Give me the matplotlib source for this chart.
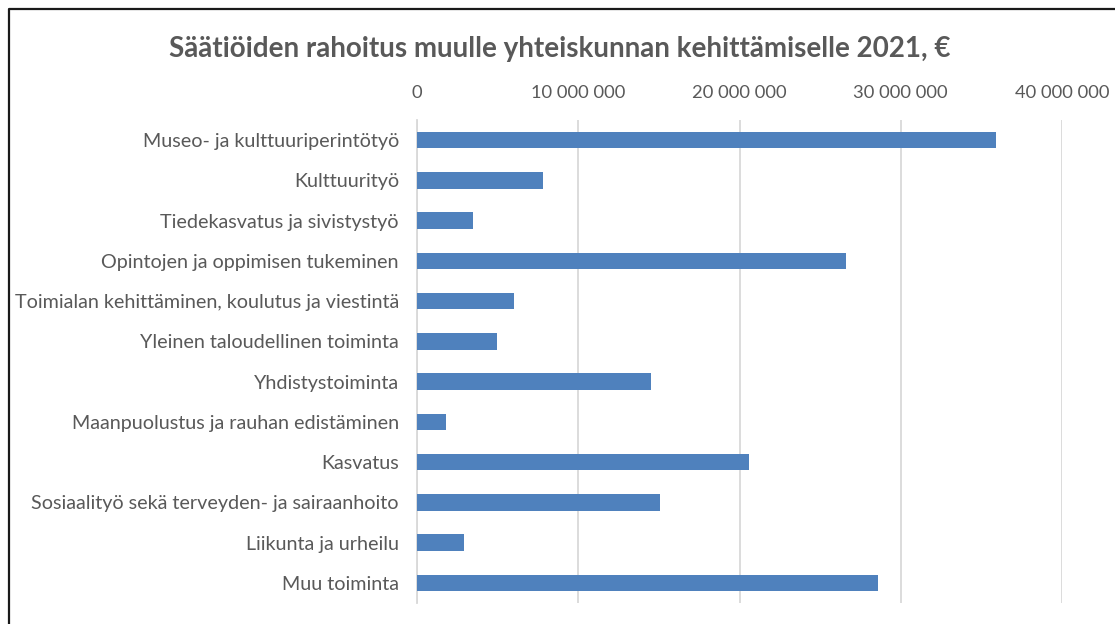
import matplotlib.pyplot as plt
from matplotlib.lines import Line2D
from matplotlib.ticker import FuncFormatter, MultipleLocator

plt.rcParams['font.family'] = ['Lato', 'DejaVu Sans']

# ------------------------------
# Data (euros)
# ------------------------------
categories = [
    'Museo- ja kulttuuriperintötyö',
    'Kulttuurityö',
    'Tiedekasvatus ja sivistystyö',
    'Opintojen ja oppimisen tukeminen',
    'Toimialan kehittäminen, koulutus ja viestintä',
    'Yleinen taloudellinen toiminta',
    'Yhdistystoiminta',
    'Maanpuolustus ja rauhan edistäminen',
    'Kasvatus',
    'Sosiaalityö sekä terveyden- ja sairaanhoito',
    'Liikunta ja urheilu',
    'Muu toiminta',
]
values = [35_900_000, 7_800_000, 3_500_000, 26_600_000, 6_000_000, 4_950_000,
          14_500_000, 1_800_000, 20_600_000, 15_100_000, 2_900_000, 28_600_000]
title = 'Säätiöiden rahoitus muulle yhteiskunnan kehittämiselle 2021, €'

text_col = '#595959'
bar_col = '#4f81bd'
grid_col = '#d9d9d9'

fig = plt.figure(figsize=(11.15, 6.24), dpi=100)
ax = fig.add_axes([417/1115, 1 - 603/624, (1062 - 417)/1115, (603 - 120)/624])

pos = list(range(len(categories)))
ax.barh(pos, values, height=0.41, color=bar_col, zorder=3)

ax.set_xlim(0, 40_000_000)
ax.set_ylim(len(categories) - 0.5, -0.5)
ax.set_yticks(pos)
ax.set_yticklabels(categories, fontsize=14.2, color=text_col)

ax.xaxis.tick_top()
ax.xaxis.set_major_locator(MultipleLocator(10_000_000))
ax.xaxis.set_major_formatter(FuncFormatter(lambda v, p: f'{int(v):,}'.replace(',', ' ')))
ax.tick_params(axis='x', length=0, pad=14, labelsize=13.2, labelcolor=text_col)
ax.tick_params(axis='y', length=0, pad=13)

ax.grid(axis='x', color=grid_col, linewidth=1.3, zorder=0)
for s in ['top', 'right', 'bottom']:
    ax.spines[s].set_visible(False)
ax.spines['left'].set_color(grid_col)
ax.spines['left'].set_linewidth(1.3)

fig.text(0.502, 1 - 49/624, title, ha='center', va='center',
         fontsize=20, fontweight='bold', color=text_col)

# outer frame (left and top edges visible)
fig.add_artist(Line2D([9/1115, 9/1115, 1.0], [0.0, 1 - 9/624, 1 - 9/624],
                      transform=fig.transFigure, color='#1a1a1a', linewidth=1.6))

fig.savefig('out.png', dpi=100)
